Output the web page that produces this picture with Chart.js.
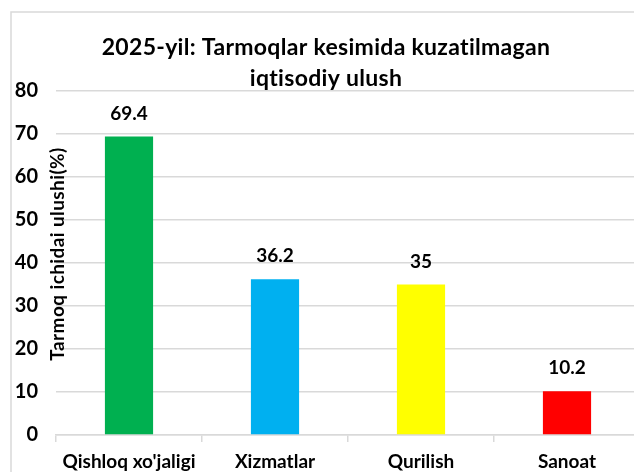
<!DOCTYPE html>
<html>
<head>
<meta charset="utf-8">
<script src="https://cdn.jsdelivr.net/npm/chart.js@4"></script>
<style>
    html, body { margin: 0; padding: 0; background: #fff; overflow: hidden; }
    #wrap { width: 660px; height: 472px; }
</style>
</head>
<body>
<div id="wrap"><canvas id="chart" width="660" height="472"></canvas></div>
<script>
// ma'lumotlar
const categories = ["Qishloq xo'jaligi", 'Xizmatlar', 'Qurilish', 'Sanoat'];
const shares = [69.4, 36.2, 35, 10.2];
const barColors = ['#00B050', '#00B0F0', '#FFFF00', '#FF0000'];
const titleLines = ['2025-yil: Tarmoqlar kesimida kuzatilmagan', 'iqtisodiy ulush'];
const yTitle = 'Tarmoq ichidai ulushi(%)';

const FONT = 'Lato, "Open Sans", sans-serif';

// ramka, sarlavha va o'q nomi
const decorPlugin = {
    id: 'decor',
    beforeDraw(chart) {
        const ctx = chart.ctx;
        ctx.save();
        ctx.fillStyle = '#fff';
        ctx.fillRect(0, 0, chart.width, chart.height);
        ctx.strokeStyle = '#D9D9D9';
        ctx.lineWidth = 1.5;
        ctx.strokeRect(11, 12, 800, 600);
        ctx.restore();
    },
    afterDraw(chart) {
        const ctx = chart.ctx;
        ctx.save();
        ctx.fillStyle = '#000';
        ctx.textAlign = 'center';
        ctx.textBaseline = 'middle';
        ctx.letterSpacing = '0.3px'; // ligaturalarsiz
        ctx.font = 'bold 23px ' + FONT;
        ctx.fillText(titleLines[0], 326, 48);
        ctx.fillText(titleLines[1], 326, 79);

        ctx.translate(58, 254);
        ctx.rotate(-Math.PI / 2);
        ctx.font = 'bold 19px ' + FONT;
        ctx.letterSpacing = '0.4px';
        ctx.fillText(yTitle, 0, 0);
        ctx.restore();
    }
};

// ustunlar ustidagi qiymatlar
const valueLabels = {
    id: 'valueLabels',
    afterDatasetsDraw(chart) {
        const ctx = chart.ctx;
        const meta = chart.getDatasetMeta(0);
        ctx.save();
        ctx.fillStyle = '#000';
        ctx.textAlign = 'center';
        ctx.textBaseline = 'alphabetic';
        ctx.font = 'bold 19px ' + FONT;
        meta.data.forEach((bar, i) => {
            ctx.fillText(String(shares[i]), bar.x, bar.y - 17);
        });
        ctx.restore();
    }
};

document.addEventListener('DOMContentLoaded', function() {
    const ctx = document.getElementById('chart').getContext('2d');
    new Chart(ctx, {
        type: 'bar',
        data: {
            labels: categories,
            datasets: [{
                data: shares,
                backgroundColor: barColors,
                barPercentage: 0.33,
                categoryPercentage: 1
            }]
        },
        options: {
            responsive: false,
            animation: false,
            layout: { padding: { top: 91, right: 20, left: 0, bottom: 0 } },
            plugins: {
                legend: { display: false },
                tooltip: { enabled: false }
            },
            scales: {
                x: {
                    grid: { drawOnChartArea: false, drawTicks: true, tickLength: 7, color: '#D9D9D9', lineWidth: 1.5, offset: true },
                    border: { color: '#D9D9D9', width: 1.5 },
                    ticks: { color: '#000', font: { family: FONT, size: 19, weight: 'bold' }, padding: 8, maxRotation: 0 },
                    afterFit(scale) { scale.height = 37; }
                },
                y: {
                    min: 0,
                    max: 80,
                    ticks: { stepSize: 10, color: '#000', font: { family: FONT, size: 20, weight: 'bold' }, padding: 18 },
                    grid: { color: '#D9D9D9', lineWidth: 1.5, drawTicks: false },
                    border: { display: false },
                    afterFit(scale) { scale.width = 56; }
                }
            }
        },
        plugins: [decorPlugin, valueLabels]
    });
});
</script>
</body>
</html>
